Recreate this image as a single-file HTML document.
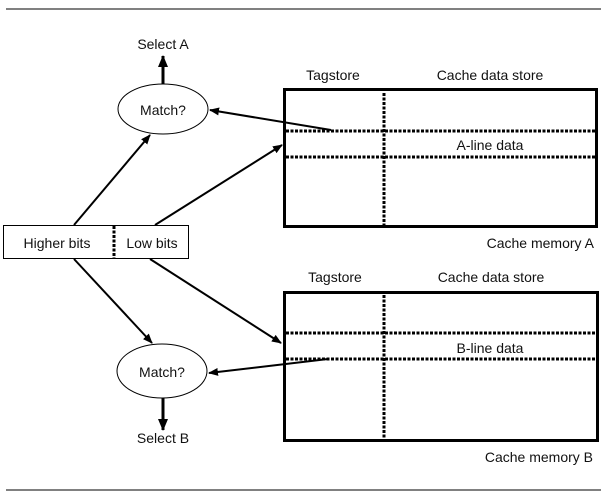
<!DOCTYPE html>
<html><head><style>
html,body{margin:0;padding:0;background:#fff;}
svg{display:block;}
text{font-family:"Liberation Sans",sans-serif;font-size:14px;fill:#111;}
</style></head><body>
<svg width="607" height="498" viewBox="0 0 607 498" xmlns="http://www.w3.org/2000/svg">
<defs>
<marker id="ah" markerWidth="10" markerHeight="8" refX="9" refY="4" orient="auto" markerUnits="userSpaceOnUse">
<path d="M0,0 L10,4 L0,8 Z" fill="#000"/>
</marker>
<marker id="ah2" markerWidth="12" markerHeight="10" refX="11" refY="5" orient="auto" markerUnits="userSpaceOnUse">
<path d="M0,0 L12,5 L0,10 Z" fill="#000"/>
</marker>
</defs>
<line x1="6" y1="9" x2="601" y2="9" stroke="#000" stroke-width="1"/>
<line x1="6" y1="490" x2="601" y2="490" stroke="#000" stroke-width="1"/>

<text x="333" y="80" text-anchor="middle">Tagstore</text>
<text x="490" y="80" text-anchor="middle">Cache data store</text>
<rect x="284.5" y="89.5" width="312" height="137" fill="none" stroke="#000" stroke-width="3"/>
<line x1="384" y1="93" x2="384" y2="225" stroke="#000" stroke-width="3" stroke-dasharray="3,1.5"/>
<line x1="286" y1="131" x2="596" y2="131" stroke="#000" stroke-width="3" stroke-dasharray="3,1.5"/>
<line x1="286" y1="157" x2="596" y2="157" stroke="#000" stroke-width="3" stroke-dasharray="3,1.5"/>
<text x="490" y="150" text-anchor="middle">A-line data</text>
<text x="594" y="248" text-anchor="end">Cache memory A</text>

<text x="335" y="282" text-anchor="middle">Tagstore</text>
<text x="491" y="282" text-anchor="middle">Cache data store</text>
<rect x="284.5" y="292.5" width="313" height="148" fill="none" stroke="#000" stroke-width="3"/>
<line x1="384" y1="295" x2="384" y2="439" stroke="#000" stroke-width="3" stroke-dasharray="3,1.5"/>
<line x1="286" y1="333" x2="597" y2="333" stroke="#000" stroke-width="3" stroke-dasharray="3,1.5"/>
<line x1="286" y1="359" x2="597" y2="359" stroke="#000" stroke-width="3" stroke-dasharray="3,1.5"/>
<text x="490" y="353" text-anchor="middle">B-line data</text>
<text x="593" y="462" text-anchor="end">Cache memory B</text>

<ellipse cx="163" cy="109" rx="45" ry="25" fill="#fff" stroke="#000" stroke-width="1"/>
<text x="163" y="115" text-anchor="middle">Match?</text>
<ellipse cx="162" cy="371" rx="45" ry="27" fill="#fff" stroke="#000" stroke-width="1"/>
<text x="162" y="377" text-anchor="middle">Match?</text>

<text x="163" y="49" text-anchor="middle">Select A</text>
<line x1="163" y1="84" x2="163" y2="56" stroke="#000" stroke-width="3" marker-end="url(#ah2)"/>
<text x="163" y="443" text-anchor="middle">Select B</text>
<line x1="163" y1="398" x2="163" y2="430" stroke="#000" stroke-width="3" marker-end="url(#ah2)"/>

<rect x="3.5" y="225.5" width="185" height="33" fill="#fff" stroke="#000" stroke-width="1"/>
<line x1="114" y1="226" x2="114" y2="258" stroke="#000" stroke-width="3" stroke-dasharray="3,1.5"/>
<text x="57" y="248" text-anchor="middle">Higher bits</text>
<text x="152" y="248" text-anchor="middle">Low bits</text>

<line x1="74" y1="225" x2="150" y2="135" stroke="#000" stroke-width="2" marker-end="url(#ah)"/>
<line x1="155" y1="225" x2="282" y2="145" stroke="#000" stroke-width="2" marker-end="url(#ah)"/>
<line x1="331" y1="130" x2="210" y2="110" stroke="#000" stroke-width="2" marker-end="url(#ah)"/>
<line x1="74" y1="259" x2="152" y2="343" stroke="#000" stroke-width="2" marker-end="url(#ah)"/>
<line x1="150" y1="259" x2="281" y2="343" stroke="#000" stroke-width="2" marker-end="url(#ah)"/>
<line x1="328" y1="359" x2="209" y2="373" stroke="#000" stroke-width="2" marker-end="url(#ah)"/>
</svg>
</body></html>
